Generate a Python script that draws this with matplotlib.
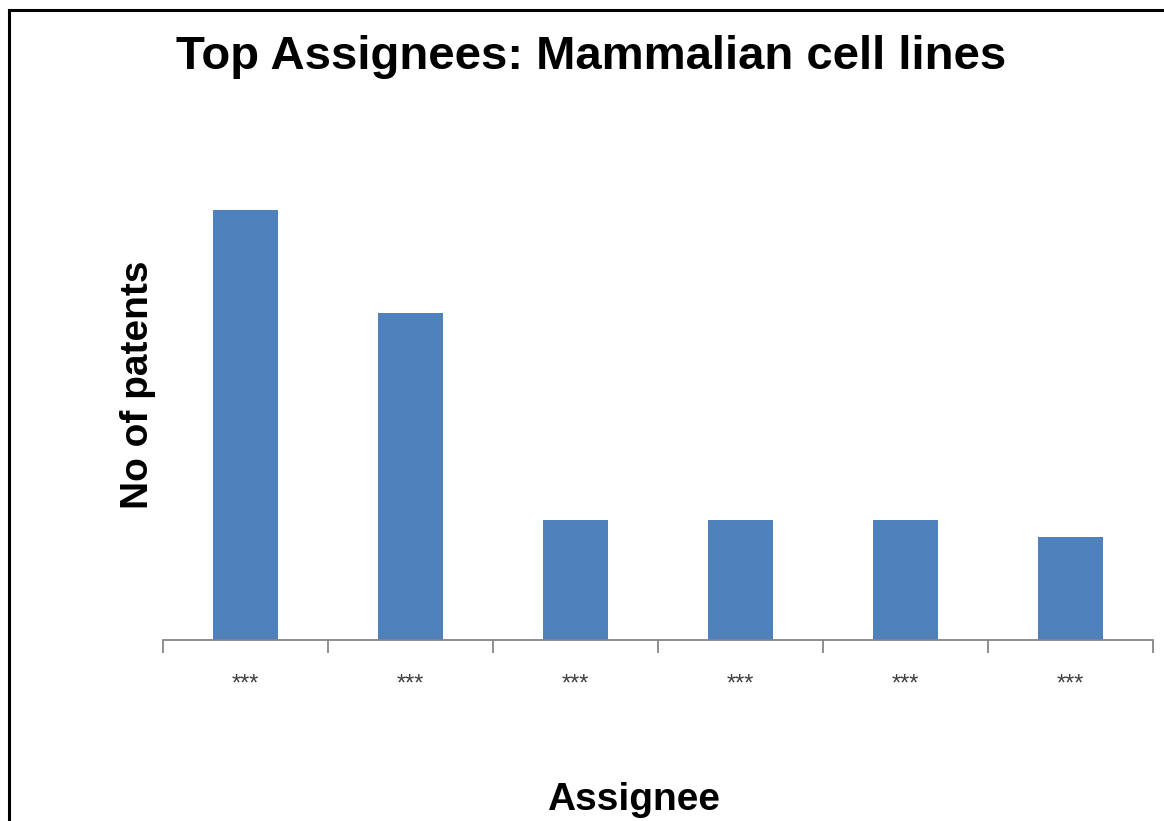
import numpy as np
import matplotlib.pyplot as plt

# data
assignees = ["***", "***", "***", "***", "***", "***"]
patents = [25, 19, 7, 7, 7, 6]

plt.rcParams['font.family'] = ['Liberation Sans', 'DejaVu Sans']

fig = plt.figure(figsize=(11.64, 8.21), dpi=100)
ax = fig.add_axes([0.140, 0.2205, 0.8506, 0.6285])

x = np.arange(len(assignees))
ax.bar(x, patents, width=0.39, color='#4F81BD')

ax.set_xlim(-0.5, len(assignees) - 0.5)
ax.set_ylim(0, 30)

# ticks sit between categories, labels at the centres
ax.set_xticks(np.arange(len(assignees) + 1) - 0.5)
ax.set_xticklabels([])
ax.set_xticks(x, minor=True)
ax.set_xticklabels(assignees, minor=True, fontsize=17, color='#404040')
ax.tick_params(axis='x', which='major', length=9, width=1.3, color='#868686', direction='out')
ax.tick_params(axis='x', which='minor', length=0, pad=24)
ax.set_yticks([])

for s in ['top', 'right', 'left']:
    ax.spines[s].set_visible(False)
ax.spines['bottom'].set_color('#868686')
ax.spines['bottom'].set_linewidth(1.3)

fig.text(0.508, 0.930, "Top Assignees: Mammalian cell lines", ha='center', va='center',
         fontsize=34, fontweight='bold')
fig.text(0.1185, 0.531, "No of patents", ha='center', va='center', rotation=90,
         fontsize=28, fontweight='bold')
fig.text(0.544, 0.026, "Assignee", ha='center', va='center',
         fontsize=28, fontweight='bold')

# frame lines at top and left edge of the picture
fig.add_artist(plt.Line2D([0.0077, 0.0077], [0, 0.988], transform=fig.transFigure,
                          color='black', linewidth=2.2))
fig.add_artist(plt.Line2D([0.0077, 1.0], [0.988, 0.988], transform=fig.transFigure,
                          color='black', linewidth=2.2))

fig.savefig('out.png', dpi=100)
